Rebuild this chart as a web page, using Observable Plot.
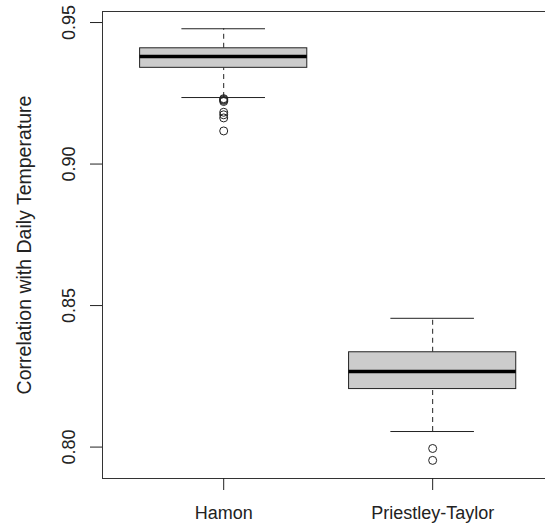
<!DOCTYPE html>
<html><head><meta charset="utf-8">
<script src="https://cdn.jsdelivr.net/npm/d3@7"></script>
<script src="https://cdn.jsdelivr.net/npm/@observablehq/plot@0.6"></script>
<style>html,body{margin:0;padding:0;background:#fff;overflow:hidden;}</style>
</head><body><div id="chart"></div>
<script>
// Data
const categories = ["Hamon", "Priestley-Taylor"];
const lowerWhisker = [0.9235, 0.8055];
const q1 = [0.9340, 0.8205];
const median = [0.9380, 0.8267];
const q3 = [0.9409, 0.8335];
const upperWhisker = [0.9478, 0.8455];
const hamonOutliers = [0.9231, 0.9228, 0.9225, 0.9221, 0.9183, 0.9174, 0.9163, 0.9117];
const priestleyOutliers = [0.7995, 0.7953];
const yTicks = [0.80, 0.85, 0.90, 0.95];
const yLabel = "Correlation with Daily Temperature";

const xDomain = [0.42, 2.54];
const yDomain = [0.7889, 0.9539];

const stats = categories.map((name, i) => ({
  pos: i + 1, name,
  lo: lowerWhisker[i], q1: q1[i], med: median[i], q3: q3[i], hi: upperWhisker[i]
}));
const outliers = [
  ...hamonOutliers.map(v => ({pos: 1, v})),
  ...priestleyOutliers.map(v => ({pos: 2, v}))
];

const ink = "#222";
const chart = Plot.plot({
  width: 545, height: 525,
  marginLeft: 102, marginRight: 0, marginTop: 11, marginBottom: 47,
  style: {fontFamily: "'Liberation Sans', Arial, sans-serif", fontSize: "18px", background: "#fff", color: ink},
  x: {domain: xDomain, axis: null},
  y: {domain: yDomain, axis: null},
  marks: [
    // frame: top, bottom, left
    Plot.ruleY(yDomain, {stroke: "#333", strokeWidth: 1}),
    Plot.ruleX([xDomain[0]], {stroke: "#333", strokeWidth: 1}),
    // whiskers (dashed)
    Plot.ruleX(stats, {x: "pos", y1: "q3", y2: "hi", stroke: ink, strokeDasharray: "5,4"}),
    Plot.ruleX(stats, {x: "pos", y1: "lo", y2: "q1", stroke: ink, strokeDasharray: "5,4"}),
    // staples
    Plot.ruleY(stats, {y: "hi", x1: d => d.pos - 0.2, x2: d => d.pos + 0.2, stroke: ink}),
    Plot.ruleY(stats, {y: "lo", x1: d => d.pos - 0.2, x2: d => d.pos + 0.2, stroke: ink}),
    // boxes
    Plot.rect(stats, {x1: d => d.pos - 0.4, x2: d => d.pos + 0.4, y1: "q1", y2: "q3", fill: "#cccccc", stroke: ink, strokeWidth: 1}),
    // medians
    Plot.ruleY(stats, {y: "med", x1: d => d.pos - 0.4, x2: d => d.pos + 0.4, stroke: "#000", strokeWidth: 3.5}),
    // outliers
    Plot.dot(outliers, {x: "pos", y: "v", r: 4, stroke: ink, fill: "none", strokeWidth: 1}),
    // axes
    Plot.axisY({
      ticks: yTicks, tickFormat: d => d.toFixed(2), tickSize: 12, tickPadding: 16,
      tickRotate: -90, textAnchor: "middle", lineAnchor: "bottom", stroke: ink,
      label: null
    }),
    Plot.axisY({
      ticks: [], tickSize: 0, label: yLabel, labelAnchor: "center", labelOffset: 85,
      labelArrow: "none", fontSize: "19.5px"
    }),
    Plot.axisX({
      ticks: [1, 2], tickFormat: d => categories[d - 1], tickSize: 12, tickPadding: 16,
      stroke: ink, label: null
    })
  ]
});
document.getElementById("chart").appendChild(chart);
</script>
</body></html>
